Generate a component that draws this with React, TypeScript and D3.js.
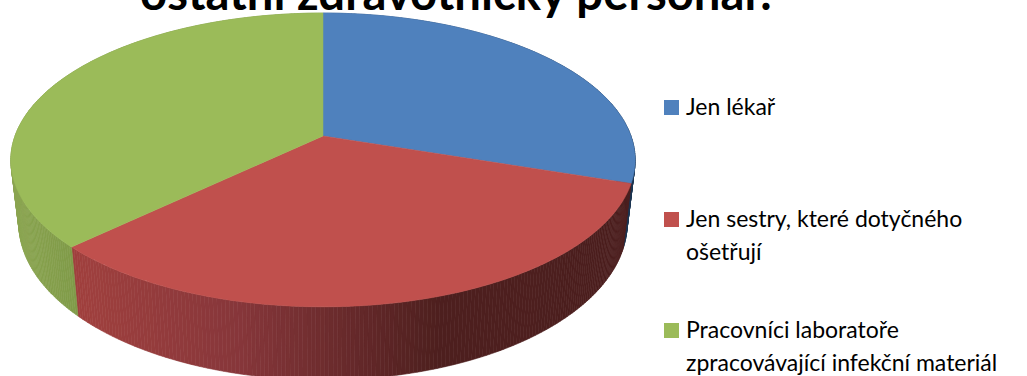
import React from "react";
import * as d3 from "d3";

// Share of answers per group, in percent
const categories = ["Jen lékař", "Jen sestry, které dotyčného ošetřují", "Pracovníci laboratoře zpracovávající infekční materiál"];
const shares = [30.1, 32.8, 37.1];
const topColors = ["#4f81bd", "#c0504d", "#9bbb59"];
const legendLines = [["Jen lékař"], ["Jen sestry, které dotyčného", "ošetřují"], ["Pracovníci laboratoře", "zpracovávající infekční materiál"]];
const titleText = "ostatní zdravotnický personál?";

const WIDTH = 1027;
const HEIGHT = 376;

// Perspective applied to the unit disc: the near edge is drawn larger than the far edge
const apex = { x: 323, y: 136 };
const spreadX = 308;
const spreadY = 143;
const tilt = -0.163;

type Ring = { scale: number; yScale: number; y: number };
const topRing: Ring = { scale: 1, yScale: 1, y: apex.y };
const baseRing: Ring = { scale: 0.9745, yScale: 1.067, y: 197.6 };

function project(angle: number, ring: Ring, r = 1): [number, number] {
  const u = r * Math.sin(angle);
  const v = -r * Math.cos(angle);
  const w = 1 + tilt * v;
  return [apex.x + (ring.scale * spreadX * u) / w, ring.y + (ring.yScale * spreadY * v) / w];
}

const arcs = d3.pie<number>().sort(null)(shares);
const outline = d3.line();

function sampleAngles(a0: number, a1: number, step: number) {
  const n = Math.max(1, Math.ceil((a1 - a0) / step));
  return d3.range(n + 1).map((i) => a0 + ((a1 - a0) * i) / n);
}

const wallShade = [
  d3.scaleLinear<string>().domain([320, 640]).range(["#3a5f8e", "#1c3452"]).clamp(true),
  d3.scaleLinear<string>().domain([78, 240, 440, 640]).range(["#a0403e", "#86363a", "#4d1f1e", "#4c1f1e"]).clamp(true),
  d3.scaleLinear<string>().domain([10, 78]).range(["#8ba551", "#7f9a48"]).clamp(true),
];

// Side wall: narrow vertical bands, shaded by where they sit horizontally
function wallBands() {
  const bands: React.ReactElement[] = [];
  arcs.forEach((a, i) => {
    const angles = sampleAngles(a.startAngle, a.endAngle, 0.012);
    for (let k = 0; k < angles.length - 1; k++) {
      const t0 = project(angles[k], topRing);
      const t1 = project(angles[k + 1], topRing);
      const b0 = project(angles[k], baseRing);
      const b1 = project(angles[k + 1], baseRing);
      const color = wallShade[i]((t0[0] + t1[0]) / 2);
      bands.push(
        <path key={`${i}-${k}`} d={outline([t0, t1, b1, b0])! + "Z"} fill={color} stroke={color} strokeWidth={0.6} />
      );
    }
  });
  return bands;
}

function topSlice(a0: number, a1: number) {
  const rim = sampleAngles(a0, a1, 0.01).map((t) => project(t, topRing));
  return outline([[apex.x, apex.y], ...rim])! + "Z";
}

const legendY = [115, 227, 338];
const lineGap = 33;

export default function App() {
  return (
    <svg
      width={WIDTH}
      height={HEIGHT}
      viewBox={`0 0 ${WIDTH} ${HEIGHT}`}
      style={{ position: "fixed", left: 0, top: 0, background: "#fff" }}
      role="img"
      aria-label={categories.join(", ")}
    >
      <text x={459} y={10} textAnchor="middle" fontFamily="Lato" fontWeight={700} fontSize={48} textLength={638} lengthAdjust="spacingAndGlyphs" fill="#000">
        {titleText}
      </text>
      <g>{wallBands()}</g>
      <g>
        {arcs.map((a, i) => (
          <path key={i} d={topSlice(a.startAngle, a.endAngle)} fill={topColors[i]} stroke={topColors[i]} strokeWidth={0.5} />
        ))}
      </g>
      <g fontFamily="Lato" fontSize={23} fill="#000">
        {legendLines.map((lines, i) => (
          <g key={i}>
            <rect x={664} y={legendY[i] - 15} width={15} height={15} fill={topColors[i]} />
            {lines.map((line, j) => (
              <text key={j} x={686} y={legendY[i] + j * lineGap}>
                {line}
              </text>
            ))}
          </g>
        ))}
      </g>
    </svg>
  );
}
